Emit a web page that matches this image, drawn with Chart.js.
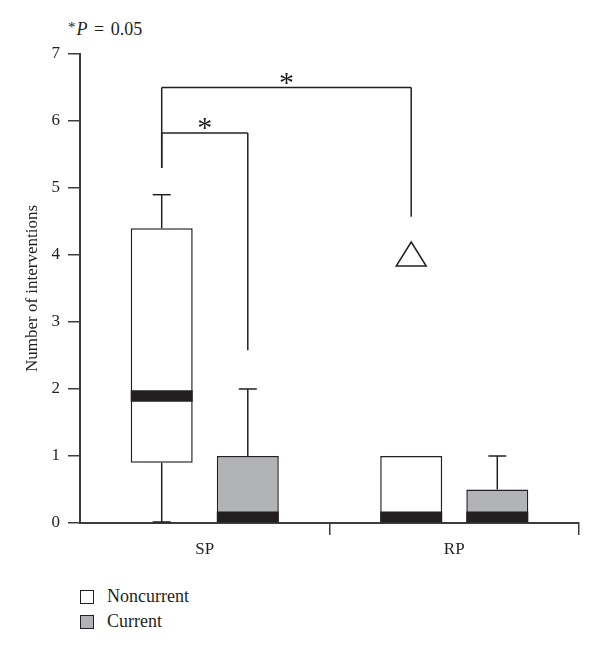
<!DOCTYPE html>
<html>
<head>
<meta charset="utf-8">
<script src="https://cdn.jsdelivr.net/npm/chart.js@4"></script>
<style>
  body { margin: 0; background: #fff; font-family: "Liberation Serif", "DejaVu Serif", serif; color: #231f20; }
  #wrap { position: relative; width: 600px; height: 651px; }
  #pnote { position: absolute; left: 68px; top: 19px; font-size: 18px; word-spacing: 2px; }
  #pnote sup { font-size: 15px; vertical-align: 3px; margin-right: 1px; }
  #chart { position: absolute; left: 0; top: 0; }
  #legend { position: absolute; left: 80px; top: 584px; font-size: 18px; }
  .item { display: flex; align-items: center; height: 25px; }
  .sw { width: 12px; height: 12px; border: 1.5px solid #231f20; margin-right: 13px; }
</style>
</head>
<body>
<div id="wrap">
  <div id="pnote"><sup>*</sup><i>P</i> = 0.05</div>
  <canvas id="chart" width="600" height="560"></canvas>
  <div id="legend"></div>
</div>
<script>
// ── Data ─────────────────────────────────────────────────────────────────
const categories = ['SP', 'RP'];
const seriesNames = ['Noncurrent', 'Current'];

const noncurrentQ1 = [0.9, 0];
const noncurrentQ3 = [4.4, 1.0];
const noncurrentMedianBand = [[1.81, 1.98], [0, 0.17]];
const noncurrentMin = [0, 0];
const noncurrentMax = [4.9, 1.0];
const noncurrentOutliers = [[], [4]];

const currentQ1 = [0, 0];
const currentQ3 = [1.0, 0.5];
const currentMedianBand = [[0, 0.17], [0, 0.17]];
const currentMin = [0, 0];
const currentMax = [2.0, 1.0];
const currentOutliers = [[], []];

const yTicks = [0, 1, 2, 3, 4, 5, 6, 7];

// significance brackets: [dataset, category] pairs, top level, drop ends
const bracketLeft  = [[0, 0], [0, 0]];
const bracketRight = [[1, 0], [0, 1]];
const bracketTop   = [5.82, 6.5];
const bracketLeftEnd  = [5.3, 5.3];
const bracketRightEnd = [2.58, 4.57];
const bracketLabel = ['*', '*'];

// ── Styles ───────────────────────────────────────────────────────────────
const ink = '#231f20';
const axisInk = '#3c3c3c';
const fills = ['#ffffff', '#b1b3b6'];
const serif = '"Liberation Serif", "DejaVu Serif", serif';
const font = { family: serif, size: 17 };

const stats = [
    { min: noncurrentMin, max: noncurrentMax, q1: noncurrentQ1, q3: noncurrentQ3, out: noncurrentOutliers },
    { min: currentMin, max: currentMax, q1: currentQ1, q3: currentQ3, out: currentOutliers },
];

// ── Whiskers, outliers, brackets ─────────────────────────────────────────
const boxExtras = {
    id: 'boxExtras',
    afterDatasetsDraw(chart) {
        const { ctx, scales: { y } } = chart;
        ctx.save();
        ctx.strokeStyle = ink;
        ctx.lineWidth = 1.5;
        const cap = 9;
        const line = (x1, y1, x2, y2) => { ctx.beginPath(); ctx.moveTo(x1, y1); ctx.lineTo(x2, y2); ctx.stroke(); };

        stats.forEach((s, i) => {
            const meta = chart.getDatasetMeta(i);
            categories.forEach((c, j) => {
                const x = meta.data[j].x;
                if (s.max[j] > s.q3[j]) {
                    const top = y.getPixelForValue(s.max[j]);
                    line(x, y.getPixelForValue(s.q3[j]), x, top);
                    line(x - cap, top, x + cap, top);
                }
                if (s.min[j] < s.q1[j]) {
                    const bot = y.getPixelForValue(s.min[j]) - 1;
                    line(x, y.getPixelForValue(s.q1[j]), x, bot);
                    line(x - cap, bot, x + cap, bot);
                }
                s.out[j].forEach(v => {
                    const py = y.getPixelForValue(v);
                    ctx.beginPath();
                    ctx.moveTo(x, py - 13);
                    ctx.lineTo(x + 15, py + 11);
                    ctx.lineTo(x - 15, py + 11);
                    ctx.closePath();
                    ctx.fillStyle = '#fff';
                    ctx.fill();
                    ctx.stroke();
                });
            });
        });

        ctx.fillStyle = ink;
        ctx.font = '30px ' + serif;
        ctx.textAlign = 'center';
        bracketTop.forEach((t, k) => {
            const xl = chart.getDatasetMeta(bracketLeft[k][0]).data[bracketLeft[k][1]].x;
            const xr = chart.getDatasetMeta(bracketRight[k][0]).data[bracketRight[k][1]].x;
            const py = y.getPixelForValue(t);
            line(xl, y.getPixelForValue(bracketLeftEnd[k]), xl, py);
            line(xl, py, xr, py);
            line(xr, py, xr, y.getPixelForValue(bracketRightEnd[k]));
            ctx.fillText(bracketLabel[k], (xl + xr) / 2, py + 4);
        });
        ctx.restore();
    }
};

new Chart(document.getElementById('chart'), {
    type: 'bar',
    data: {
        labels: categories,
        datasets: [
            { label: seriesNames[0], data: noncurrentQ1.map((v, j) => [v, noncurrentQ3[j]]), stack: 'nc', order: 2,
              backgroundColor: fills[0], borderColor: ink, borderWidth: 1.5, borderSkipped: false },
            { label: seriesNames[1], data: currentQ1.map((v, j) => [v, currentQ3[j]]), stack: 'cur', order: 2,
              backgroundColor: fills[1], borderColor: ink, borderWidth: 1.5, borderSkipped: false },
            { label: 'median-nc', data: noncurrentMedianBand, stack: 'nc', order: 1,
              backgroundColor: ink, borderWidth: 0 },
            { label: 'median-cur', data: currentMedianBand, stack: 'cur', order: 1,
              backgroundColor: ink, borderWidth: 0 },
        ]
    },
    options: {
        responsive: false,
        animation: false,
        categoryPercentage: 0.69,
        barPercentage: 0.72,
        layout: { padding: { top: 54, right: 21, left: 0, bottom: 0 } },
        plugins: { legend: { display: false }, tooltip: { enabled: false } },
        scales: {
            x: {
                stacked: true,
                afterFit(scale) { scale.height = 37; },
                border: { color: axisInk, width: 2 },
                grid: { drawOnChartArea: false, tickLength: 12, lineWidth: 1.5,
                        color: c => c.index === 0 ? 'rgba(0,0,0,0)' : axisInk },
                ticks: { color: ink, font, padding: 4 }
            },
            y: {
                stacked: false,
                min: 0, max: 7,
                afterFit(scale) { scale.width = 80; },
                afterBuildTicks(scale) { scale.ticks = yTicks.map(v => ({ value: v })); },
                border: { color: axisInk, width: 2 },
                grid: { drawOnChartArea: false, tickLength: 12, lineWidth: 1.5, color: axisInk },
                ticks: { color: ink, font, padding: 8 },
                title: { display: true, text: 'Number of interventions', color: ink,
                         font: { family: serif, size: 17 }, padding: { top: 22, bottom: 0 } }
            }
        }
    },
    plugins: [boxExtras]
});

// ── Legend ───────────────────────────────────────────────────────────────
document.getElementById('legend').innerHTML = seriesNames.map((n, i) =>
    `<div class="item"><span class="sw" style="background:${fills[i]}"></span>${n}</div>`).join('');
</script>
</body>
</html>
